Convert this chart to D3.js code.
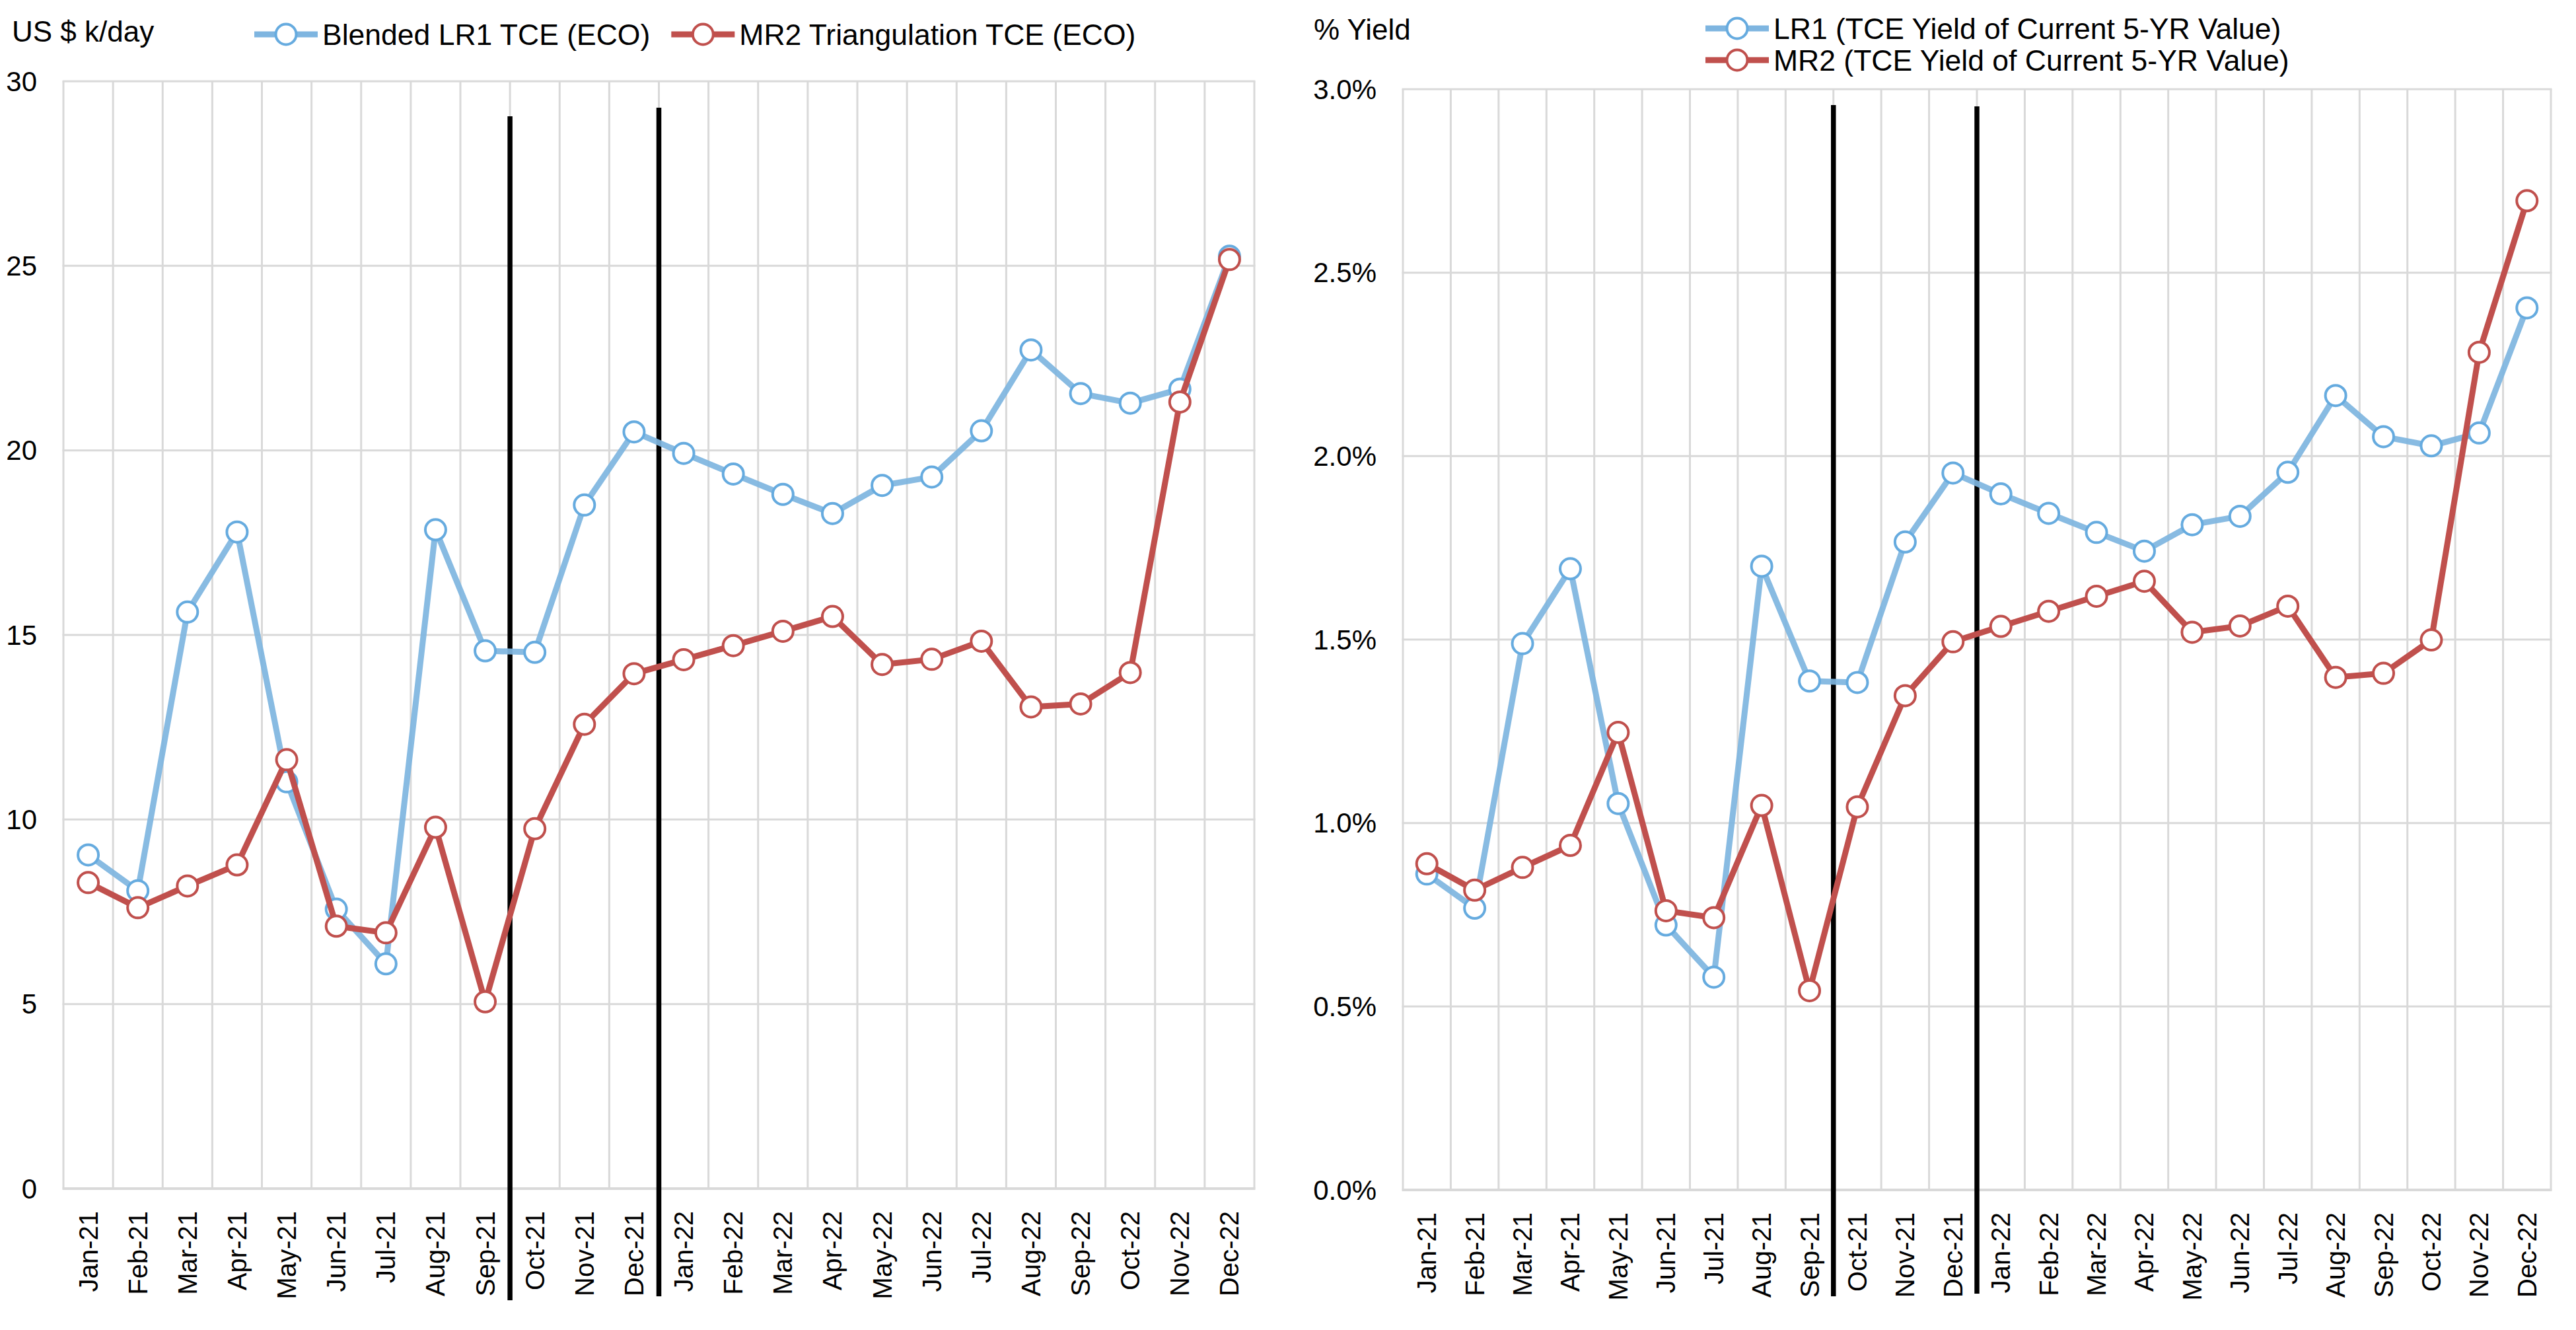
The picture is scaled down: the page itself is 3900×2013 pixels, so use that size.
<!DOCTYPE html>
<html>
<head>
<meta charset="utf-8">
<script src="https://cdn.jsdelivr.net/npm/d3@7"></script>
<style>
    body { margin: 0; background: #fff; }
    text { font-family: "Liberation Sans", Arial, sans-serif; fill: #000; }
</style>
</head>
<body>
<svg width="3900" height="2013"></svg>
<script>
// months on the category axis
let months = ['Jan-21', 'Feb-21', 'Mar-21', 'Apr-21', 'May-21', 'Jun-21', 'Jul-21', 'Aug-21', 'Sep-21',
    'Oct-21', 'Nov-21', 'Dec-21', 'Jan-22', 'Feb-22', 'Mar-22', 'Apr-22', 'May-22', 'Jun-22',
    'Jul-22', 'Aug-22', 'Sep-22', 'Oct-22', 'Nov-22', 'Dec-22'];

// left panel, US $ k/day
let lr1Tce = [9.04, 8.07, 15.62, 17.79, 11.02, 7.57, 6.09, 17.85, 14.57, 14.53, 18.52, 20.50,
    19.92, 19.36, 18.81, 18.29, 19.05, 19.28, 20.53, 22.72, 21.54, 21.28, 21.66, 25.26];
let mr2Tce = [8.29, 7.61, 8.20, 8.77, 11.62, 7.11, 6.93, 9.79, 5.06, 9.75, 12.58, 13.95,
    14.33, 14.71, 15.10, 15.50, 14.20, 14.34, 14.83, 13.05, 13.13, 13.98, 21.31, 25.17];
let tceTicks = [0, 5, 10, 15, 20, 25, 30];

// right panel, % yield
let lr1Yield = [0.861, 0.768, 1.489, 1.693, 1.053, 0.722, 0.580, 1.700, 1.387, 1.383, 1.766, 1.954,
    1.897, 1.844, 1.792, 1.741, 1.813, 1.836, 1.956, 2.165, 2.053, 2.028, 2.063, 2.404];
let mr2Yield = [0.889, 0.817, 0.879, 0.939, 1.247, 0.761, 0.742, 1.048, 0.543, 1.044, 1.347, 1.494,
    1.536, 1.577, 1.618, 1.659, 1.520, 1.537, 1.591, 1.397, 1.408, 1.499, 2.283, 2.696];
let yieldTicks = [0, 0.5, 1.0, 1.5, 2.0, 2.5, 3.0];

// the two black period separators sit just before these months
let separators = ['Oct-21', 'Jan-22'];

var blue = { line: '#7eb5e0', marker: '#66abdf' };
var red = { line: '#c0504d', marker: '#c0504d' };

var svg = d3.select('svg');

drawPanel({
    left: 96, right: 1899, top: 123, bottom: 1799,
    domain: [0, 30], ticks: tceTicks, fmt: d => d,
    title: 'US $ k/day', titleX: 18, titleY: 48,
    sepTop: [176, 163], sepBottom: [1968, 1962],
    series: [
        { name: 'Blended LR1 TCE (ECO)', values: lr1Tce, col: blue },
        { name: 'MR2 Triangulation TCE (ECO)', values: mr2Tce, col: red }
    ],
    legend: { x: 385, y: 52, stacked: false }
});

drawPanel({
    left: 2124, right: 3862, top: 135, bottom: 1801,
    domain: [0, 3], ticks: yieldTicks, fmt: d => d.toFixed(1) + '%',
    title: '% Yield', titleX: 1989, titleY: 45,
    sepTop: [159, 161], sepBottom: [1962, 1958],
    series: [
        { name: 'LR1 (TCE Yield of Current 5-YR Value)', values: lr1Yield, col: blue },
        { name: 'MR2 (TCE Yield of Current 5-YR Value)', values: mr2Yield, col: red }
    ],
    legend: { x: 2582, y: 43, stacked: true }
});

function drawPanel(p) {
    var g = svg.append('g');

    var x = d3.scaleBand().domain(months).range([p.left, p.right]).padding(0);
    var y = d3.scaleLinear().domain(p.domain).range([p.bottom, p.top]);
    var cx = m => x(m) + x.bandwidth() / 2;

    /* ----------- GRID ----------- */

    var edges = months.map(m => x(m)).concat([p.right]);

    g.selectAll('line.vgrid').data(edges).enter()
        .append('line')
        .attr('class', 'vgrid')
        .attr('x1', d => d).attr('x2', d => d)
        .attr('y1', p.top).attr('y2', p.bottom)
        .attr('stroke', '#d9d9d9')
        .attr('stroke-width', 3);

    g.selectAll('line.hgrid').data(p.ticks).enter()
        .append('line')
        .attr('class', 'hgrid')
        .attr('x1', p.left - 1.5).attr('x2', p.right + 1.5)
        .attr('y1', d => y(d)).attr('y2', d => y(d))
        .attr('stroke', '#d9d9d9')
        .attr('stroke-width', d => (d === 0 ? 4 : 3));

    /* ----------- AXIS TEXT ----------- */

    g.selectAll('text.ytick').data(p.ticks).enter()
        .append('text')
        .attr('class', 'ytick')
        .attr('x', p.left - 40)
        .attr('y', d => y(d))
        .attr('dy', '0.35em')
        .attr('text-anchor', 'end')
        .style('font-size', '42px')
        .text(p.fmt);

    g.selectAll('text.xtick').data(months).enter()
        .append('text')
        .attr('class', 'xtick')
        .attr('transform', d => 'translate(' + cx(d) + ',' + (p.bottom + 34) + ') rotate(-90)')
        .attr('dy', '0.35em')
        .attr('text-anchor', 'end')
        .style('font-size', '40px')
        .text(d => d);

    g.append('text')
        .attr('x', p.titleX)
        .attr('y', p.titleY)
        .attr('dy', '0.35em')
        .style('font-size', '44px')
        .text(p.title);

    /* ----------- SEPARATORS ----------- */

    g.selectAll('line.sep').data(separators).enter()
        .append('line')
        .attr('class', 'sep')
        .attr('x1', d => x(d)).attr('x2', d => x(d))
        .attr('y1', (d, i) => p.sepTop[i])
        .attr('y2', (d, i) => p.sepBottom[i])
        .attr('stroke', '#000')
        .attr('stroke-width', 7.5);

    /* ----------- SERIES ----------- */

    var line = d3.line()
        .x((d, i) => cx(months[i]))
        .y(d => y(d));

    p.series.forEach(s => {
        g.append('path')
            .datum(s.values)
            .attr('fill', 'none')
            .attr('stroke', s.col.line)
            .attr('stroke-opacity', s.col === blue ? 0.92 : 1)
            .attr('stroke-width', 9)
            .attr('stroke-linejoin', 'round')
            .attr('d', line);

        g.selectAll(null).data(s.values).enter()
            .append('circle')
            .attr('cx', (d, i) => cx(months[i]))
            .attr('cy', d => y(d))
            .attr('r', 15.5)
            .attr('fill', '#fff')
            .attr('stroke', s.col.marker)
            .attr('stroke-width', 4);
    });

    /* ----------- LEGEND ----------- */

    var lx = p.legend.x;
    p.series.forEach((s, i) => {
        var ly = p.legend.stacked ? p.legend.y + i * 48 : p.legend.y;
        var item = g.append('g');

        item.append('line')
            .attr('x1', lx).attr('x2', lx + 96)
            .attr('y1', ly).attr('y2', ly)
            .attr('stroke', s.col.line)
            .attr('stroke-width', 9);

        item.append('circle')
            .attr('cx', lx + 48).attr('cy', ly)
            .attr('r', 15.5)
            .attr('fill', '#fff')
            .attr('stroke', s.col.marker)
            .attr('stroke-width', 4);

        var t = item.append('text')
            .attr('x', lx + 103)
            .attr('y', ly)
            .attr('dy', '0.35em')
            .style('font-size', '44.5px')
            .text(s.name);

        if (!p.legend.stacked) {
            lx = lx + 103 + t.node().getComputedTextLength() + 32;
        }
    });
}
</script>
</body>
</html>
